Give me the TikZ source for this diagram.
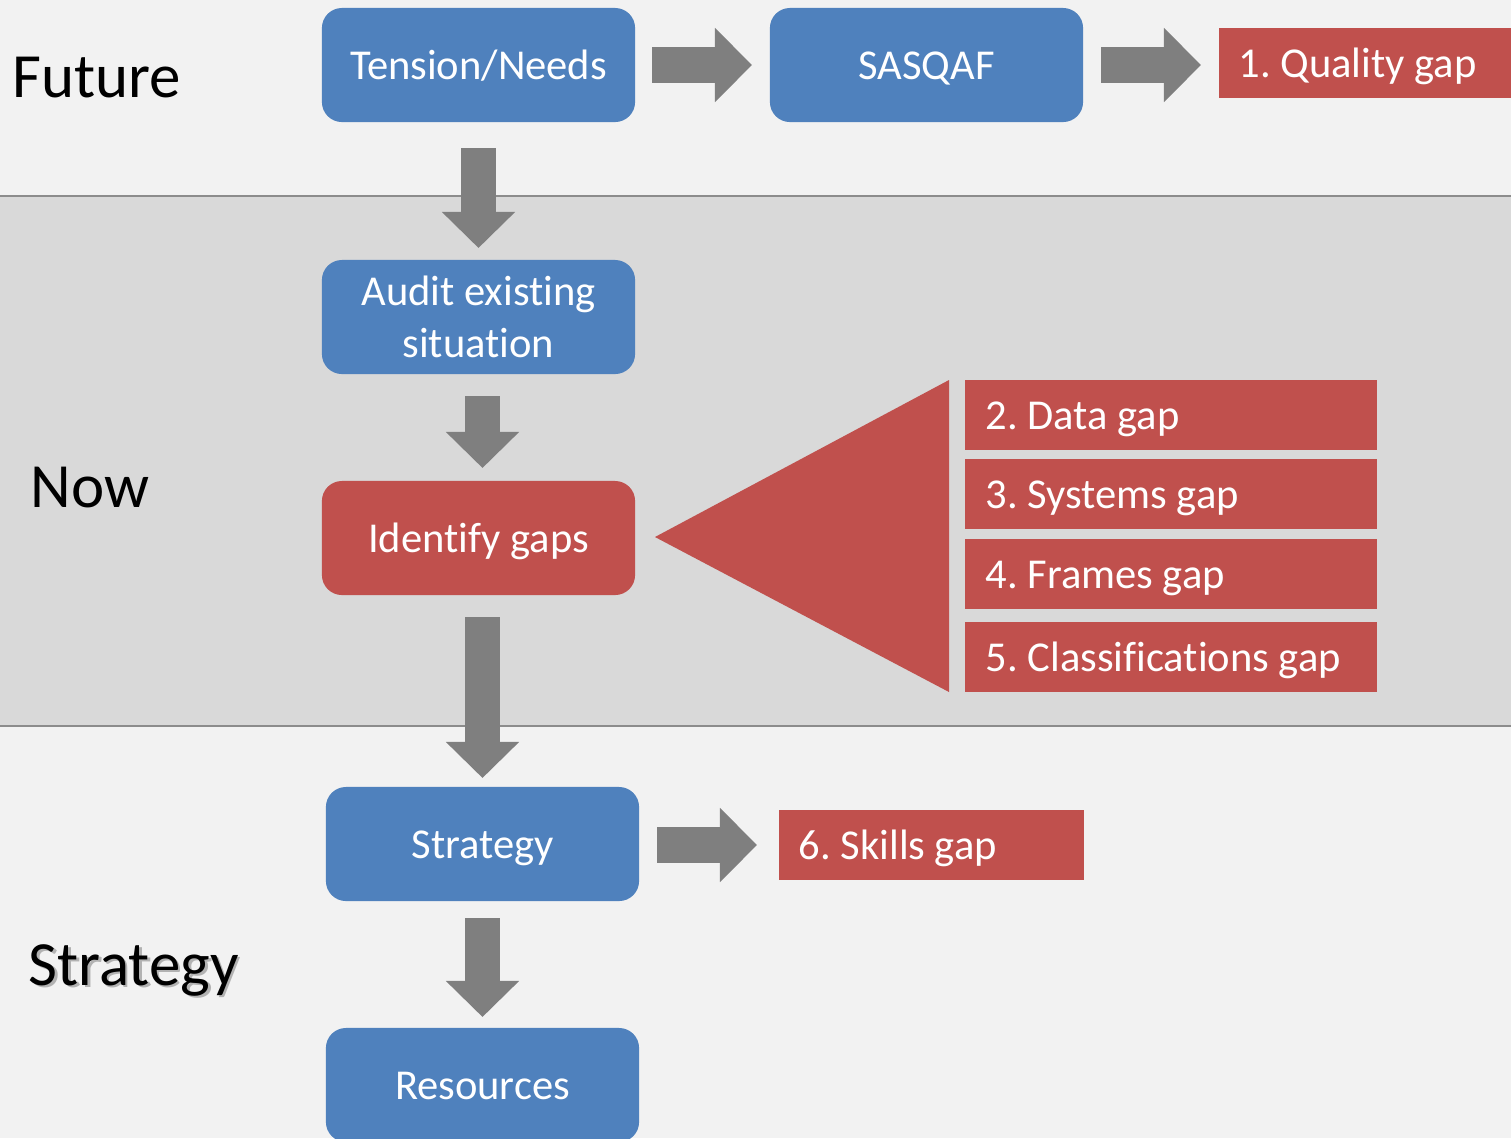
\documentclass[tikz,border=0pt]{standalone}
\usepackage{fontspec}
\setmainfont{Carlito}[Ligatures=NoCommon]
\usetikzlibrary{arrows.meta}
\frenchspacing
\definecolor{bgl}{HTML}{F2F2F2}
\definecolor{band}{HTML}{D9D9D9}
\definecolor{bandline}{HTML}{8C8C8C}
\definecolor{boxblue}{HTML}{4F81BD}
\definecolor{boxred}{HTML}{C0504D}
\definecolor{arrowgray}{HTML}{7F7F7F}
\tikzset{
  boxfont/.style={font=\fontsize{12.1}{14.8}\selectfont},
  bluebox/.style={fill=boxblue, draw=none, rounded corners=0.2cm, minimum width=3.13cm, minimum height=1.14cm, inner sep=0pt, text=white, align=center, boxfont},
  onerow/.style={text height=0.33cm, text depth=0.04cm},
  redround/.style={bluebox, fill=boxred},
  gapbox/.style={fill=boxred, draw=none, minimum height=0.70cm, inner sep=0pt, anchor=west},
  gaptext/.style={text=white, anchor=west, inner sep=0pt, boxfont, onerow},
  blockdown/.style={draw=arrowgray, line width=0.355cm, -{Triangle[length=0.36cm,width=0.71cm]}},
  blockright/.style={draw=arrowgray, line width=0.36cm, -{Triangle[length=0.37cm,width=0.72cm]}},
  biglabel/.style={anchor=west, inner sep=0pt, font=\fontsize{17.9}{21}\selectfont}
}
\begin{document}
\begin{tikzpicture}[x=0.01cm,y=-0.01cm]
\useasboundingbox (0,0) rectangle (1511,1138);
\clip (0,0) rectangle (1511,1138);
% backgrounds
\fill[bgl] (0,0) rectangle (1511,1138);
\fill[band] (0,196) rectangle (1511,726);
\draw[bandline, line width=0.02cm] (0,196) -- (1511,196);
\draw[bandline, line width=0.02cm] (0,726) -- (1511,726);
% section labels
\node[biglabel] (future) at (12,78) {Future};
\node[biglabel] (now) at (30,488) {Now};
\node[biglabel, text=black!30] (stratshadow) at (30.5,972.5) {Strategy};
\node[biglabel] (stratlabel) at (28,970) {Strategy};
% boxes
\node[bluebox, onerow] (tension) at (478.5,65) {Tension/Needs};
\node[bluebox, onerow] (sasqaf) at (926.5,65) {SASQAF};
\node[gapbox, minimum width=2.93cm] (quality) at (1218,63) {};
\node[gaptext] (qualityt) at (1238,63) {1. Quality gap};
\node[bluebox] (audit) at (478.5,317) {Audit existing\\situation};
\node[redround, onerow] (identify) at (478.5,538) {Identify gaps};
\node[bluebox, onerow] (strategy) at (482.5,844) {Strategy};
\node[bluebox, onerow] (resources) at (482.5,1085) {Resources};
% triangle
\fill[boxred] (655,537) -- (949,380) -- (949,692) -- cycle;
\node[gapbox, minimum width=4.12cm] (data) at (964,415) {};
\node[gaptext] (datat) at (985,415) {2. Data gap};
\node[gapbox, minimum width=4.12cm] (systems) at (964,494) {};
\node[gaptext] (systemst) at (985,494) {3. Systems gap};
\node[gapbox, minimum width=4.12cm] (frames) at (964,574) {};
\node[gaptext] (framest) at (985,574) {4. Frames gap};
\node[gapbox, minimum width=4.12cm] (classif) at (964,657) {};
\node[gaptext] (classift) at (985,657) {5. Classifications gap};
\node[gapbox, minimum width=3.05cm] (skills) at (778,845) {};
\node[gaptext] (skillst) at (798,845) {6. Skills gap};
% arrow endpoints
\coordinate (a1s) at (652,65); \coordinate (a1e) at (752,65);
\coordinate (a2s) at (1101,65); \coordinate (a2e) at (1201,65);
\coordinate (d1s) at (478.5,148); \coordinate (d1e) at (478.5,248);
\coordinate (d2s) at (482.5,396); \coordinate (d2e) at (482.5,468);
\coordinate (d3s) at (482.5,617); \coordinate (d3e) at (482.5,778);
\coordinate (a3s) at (657,845); \coordinate (a3e) at (757,845);
\coordinate (d4s) at (482.5,918); \coordinate (d4e) at (482.5,1017);
% arrows
\draw[blockright] (a1s) -- (a1e);
\draw[blockright] (a2s) -- (a2e);
\draw[blockdown] (d1s) -- (d1e);
\draw[blockdown] (d2s) -- (d2e);
\draw[blockdown] (d3s) -- (d3e);
\draw[blockright] (a3s) -- (a3e);
\draw[blockdown] (d4s) -- (d4e);
\end{tikzpicture}
\end{document}
